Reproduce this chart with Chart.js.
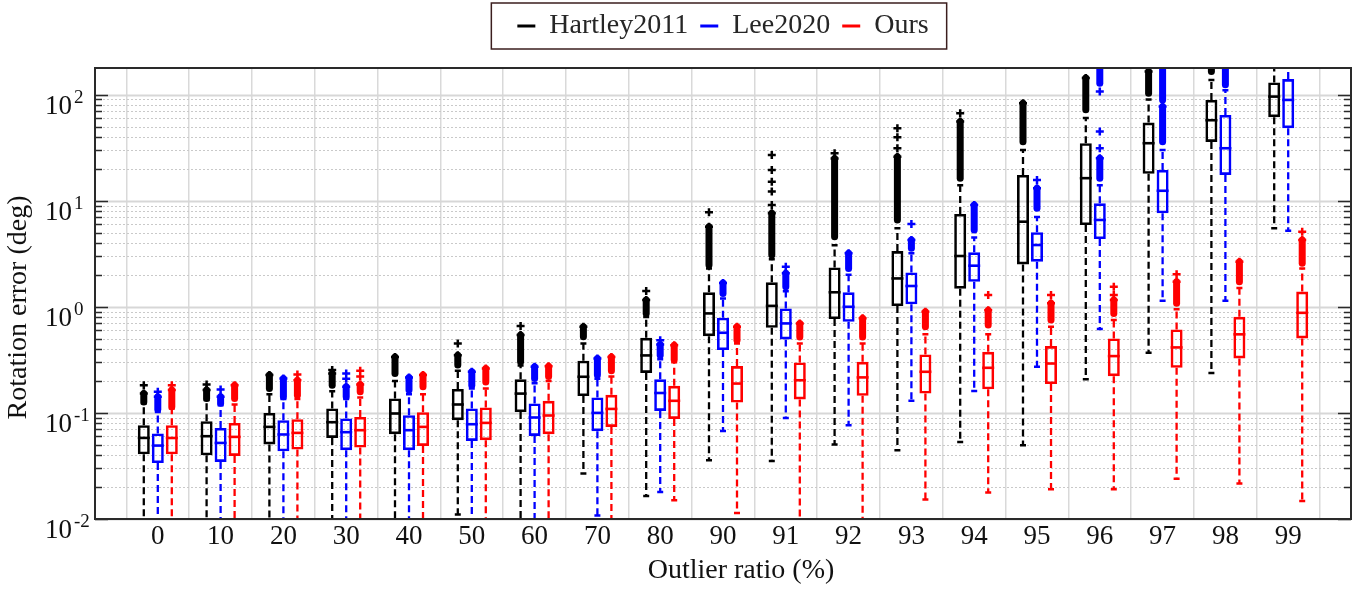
<!DOCTYPE html>
<html>
<head>
<meta charset="utf-8">
<title>Rotation error vs outlier ratio</title>
<script src="https://cdn.jsdelivr.net/npm/chart.js@4.4.1/dist/chart.umd.min.js"></script>
<style>
  html, body { margin: 0; padding: 0; background: #fff; }
  #wrap { width: 1359px; height: 589px; }
</style>
</head>
<body>
<div id="wrap"><canvas id="boxChart"></canvas></div>
<script>
// box plot of rotation error per outlier ratio, three methods, log y axis

const SERIF = '"Liberation Serif", "Times New Roman", Times, serif';

const ratios = ['0','10','20','30','40','50','60','70','80','90','91','92','93','94','95','96','97','98','99'];
const seriesNames = ['Hartley2011', 'Lee2020', 'Ours'];
const seriesColors = ['#000000', '#0000ff', '#ff0000'];

const yRange = [0.01, 178];
const yTickExponents = [-2, -1, 0, 1, 2];

// --- Hartley2011 ---
const hartleyLow    = [0.001,0.001,0.001,0.001,0.001,0.011,0.001,0.0268,0.0165,0.0358,0.0352,0.0504,0.0445,0.0533,0.0496,0.207,0.368,0.238,5.49];
const hartleyQ1     = [0.0407,0.0399,0.0504,0.0581,0.063,0.0853,0.102,0.144,0.238,0.529,0.634,0.766,1.016,1.48,2.51,5.9,17.9,35.8,61.2];
const hartleyMedian = [0.0581,0.0603,0.0738,0.0817,0.0987,0.12,0.152,0.219,0.348,0.866,1.02,1.37,1.85,3.01,6.34,16.3,34.8,57.3,95.7];
const hartleyQ3     = [0.0766,0.0836,0.1,0.11,0.137,0.168,0.207,0.31,0.51,1.368,1.7,2.35,3.35,7.49,17.5,34.8,54.5,89,130];
const hartleyHigh   = [0.123,0.132,0.15,0.16,0.2,0.25,0.28,0.45,0.8,2.3,2.8,3.8,5.5,14,30,60,90,137,300];
const hartleySpans  = [[[0.127,0.152]],[[0.137,0.164]],[[0.17,0.227]],[[0.182,0.235]],[[0.235,0.337]],[[0.282,0.35]],[[0.303,0.541]],[[0.521,0.648]],[[0.866,1.157]],[[2.47,5.69]],[[3.07,7.6]],[[4.57,25]],[[6.58,26]],[[16.3,55.6]],[[36,83]],[[71.8,143]],[[103,165]],[[165,200]],[]];
const hartleyPoints = [[0.182],[0.185],[],[0.253],[],[0.452],[0.658],[],[1.41],[7.78],[9.1,12.2,15.1,19.5,27],[28],[31.2,39.6,48.2],[66.8],[],[],[],[],[]];

// --- Lee2020 ---
const leeLow    = [0.001,0.001,0.001,0.001,0.001,0.001,0.001,0.0108,0.018,0.0676,0.0897,0.0766,0.13,0.161,0.272,0.616,1.14,1.14,5.21];
const leeQ1     = [0.0337,0.0345,0.0435,0.0445,0.0445,0.0544,0.0607,0.0672,0.1044,0.391,0.492,0.722,1.055,1.72,2.66,4.35,7.6,17.5,48.2];
const leeMedian = [0.0492,0.0521,0.0626,0.0658,0.0687,0.0782,0.0905,0.1,0.154,0.569,0.697,1.0,1.57,2.44,3.82,6.58,12.4,31.2,89];
const leeQ3     = [0.064,0.0721,0.0853,0.0885,0.0951,0.11,0.1227,0.14,0.207,0.788,0.966,1.37,2.11,3.26,5.04,9.45,19.5,64.3,140];
const leeHigh   = [0.102,0.118,0.135,0.135,0.15,0.17,0.19,0.21,0.32,1.2,1.4,2.0,3.2,4.5,7,14,30,110,300];
const leeSpans  = [[[0.108,0.142]],[[0.123,0.142]],[[0.142,0.211]],[[0.142,0.176]],[[0.164,0.216]],[[0.182,0.244]],[[0.211,0.272]],[[0.227,0.326]],[[0.35,0.44]],[[1.337,1.68]],[[1.545,2.07]],[[2.3,3.19]],[[3.56,4.26]],[[5.29,9.1]],[[8.48,13.1]],[[16.3,25.1],[128,200]],[[36,77],[89,200]],[[124,200]],[]];
const leePoints = [[0.158],[0.166],[],[0.21,0.235],[],[],[],[],[0.485],[],[2.38],[],[6.03],[],[15.7],[31.2,44.8,107],[],[],[]];

// --- Ours ---
const oursLow    = [0.001,0.001,0.001,0.001,0.001,0.001,0.001,0.001,0.015,0.0114,0.001,0.001,0.0153,0.0178,0.0191,0.0191,0.024,0.0216,0.0148];
const oursQ1     = [0.0407,0.0393,0.0451,0.0472,0.0488,0.0553,0.063,0.0738,0.0878,0.125,0.134,0.145,0.152,0.167,0.187,0.222,0.266,0.326,0.503];
const oursMedian = [0.058,0.0594,0.0648,0.0687,0.0738,0.0805,0.0945,0.109,0.13,0.189,0.203,0.216,0.244,0.266,0.292,0.343,0.414,0.55,0.877];
const oursQ3     = [0.0766,0.0805,0.0873,0.0917,0.1015,0.1125,0.13,0.148,0.18,0.276,0.299,0.303,0.356,0.376,0.426,0.503,0.612,0.805,1.39];
const oursHigh   = [0.11,0.12,0.135,0.14,0.15,0.17,0.2,0.22,0.3,0.45,0.45,0.45,0.55,0.55,0.65,0.75,0.95,1.5,2.3];
const oursSpans  = [[[0.114,0.164]],[[0.137,0.182]],[[0.147,0.203]],[[0.158,0.185]],[[0.176,0.227]],[[0.196,0.262]],[[0.22,0.275]],[[0.25,0.337]],[[0.318,0.435]],[[0.485,0.648]],[[0.52,0.697]],[[0.52,0.778]],[[0.648,0.897]],[[0.672,0.93]],[[0.75,1.077]],[[0.866,1.157]],[[1.077,1.72]],[[1.72,2.66]],[[2.57,4.26]]];
const oursPoints = [[0.182],[],[0.23],[0.22,0.25],[],[],[],[],[],[],[],[],[],[1.29],[1.29],[1.29,1.545],[2.03],[],[5.1]];

const boxStats = [
  { low: hartleyLow, q1: hartleyQ1, median: hartleyMedian, q3: hartleyQ3, high: hartleyHigh, spans: hartleySpans, points: hartleyPoints },
  { low: leeLow,     q1: leeQ1,     median: leeMedian,     q3: leeQ3,     high: leeHigh,     spans: leeSpans,     points: leePoints },
  { low: oursLow,    q1: oursQ1,    median: oursMedian,    q3: oursQ3,    high: oursHigh,    spans: oursSpans,    points: oursPoints }
];

// one empty slot on each side so the ratios sit one step in from the frame
const axisLabels = [''].concat(ratios, ['']);

function boxRanges(s) {
  return [null].concat(s.q1.map((v, i) => [v, s.q3[i]]), [null]);
}

function plus(ctx, x, y, r) {
  ctx.moveTo(x - r, y); ctx.lineTo(x + r, y);
  ctx.moveTo(x, y - r); ctx.lineTo(x, y + r);
}

// whiskers, medians and outliers on top of the floating bars
const boxExtras = {
  id: 'boxExtras',
  afterDatasetsDraw(chart) {
    const {ctx, chartArea: ca} = chart;
    const ys = chart.scales.y;
    ctx.save();
    ctx.beginPath();
    ctx.rect(ca.left, ca.top, ca.right - ca.left, ca.bottom - ca.top);
    ctx.clip();
    boxStats.forEach((s, d) => {
      const meta = chart.getDatasetMeta(d);
      ctx.strokeStyle = seriesColors[d];
      ratios.forEach((_, i) => {
        const el = meta.data[i + 1];
        if (!el) return;
        const {x, width} = el.getProps(['x', 'width'], true);
        const pLow = ys.getPixelForValue(s.low[i]);
        const pQ1 = ys.getPixelForValue(s.q1[i]);
        const pMed = ys.getPixelForValue(s.median[i]);
        const pQ3 = ys.getPixelForValue(s.q3[i]);
        const pHigh = ys.getPixelForValue(s.high[i]);

        // dashed whiskers
        ctx.lineWidth = 2.3;
        ctx.lineCap = 'butt';
        ctx.setLineDash([7, 4]);
        ctx.beginPath();
        ctx.moveTo(x, pQ1); ctx.lineTo(x, pLow);
        ctx.moveTo(x, pQ3); ctx.lineTo(x, pHigh);
        ctx.stroke();
        ctx.setLineDash([]);

        // caps
        ctx.lineWidth = 2.5;
        ctx.beginPath();
        ctx.moveTo(x - 3, pLow); ctx.lineTo(x + 3, pLow);
        ctx.moveTo(x - 3, pHigh); ctx.lineTo(x + 3, pHigh);
        ctx.stroke();

        // median
        ctx.lineWidth = 2.6;
        ctx.beginPath();
        ctx.moveTo(x - width / 2, pMed); ctx.lineTo(x + width / 2, pMed);
        ctx.stroke();

        // dense outlier runs
        s.spans[i].forEach(([a, b]) => {
          const pa = ys.getPixelForValue(a), pb = ys.getPixelForValue(b);
          ctx.lineWidth = 7;
          ctx.lineCap = 'round';
          ctx.beginPath();
          ctx.moveTo(x, pa); ctx.lineTo(x, pb);
          ctx.stroke();
          ctx.lineCap = 'butt';
          ctx.lineWidth = 2.5;
          ctx.beginPath();
          plus(ctx, x, pb, 4);
          ctx.stroke();
        });

        // single outliers
        ctx.lineWidth = 2.5;
        ctx.beginPath();
        s.points[i].forEach(v => plus(ctx, x, ys.getPixelForValue(v), 4));
        ctx.stroke();
      });
    });
    ctx.restore();
  }
};

// log grid: solid decades, dotted minors
const logGrid = {
  id: 'logGrid',
  beforeDatasetsDraw(chart) {
    const {ctx, chartArea: ca} = chart;
    const ys = chart.scales.y;
    ctx.save();
    for (let k = Math.floor(Math.log10(ys.min)); k <= Math.ceil(Math.log10(ys.max)); k++) {
      for (let m = 1; m <= 9; m++) {
        const v = m * Math.pow(10, k);
        if (v < ys.min * 0.999 || v > ys.max) continue;
        const py = Math.round(ys.getPixelForValue(v)) + 0.5;
        ctx.beginPath();
        if (m === 1) {
          ctx.setLineDash([]);
          ctx.strokeStyle = '#d7d7d7';
          ctx.lineWidth = 2;
        } else {
          ctx.setLineDash([2, 2]);
          ctx.strokeStyle = '#c9c9c9';
          ctx.lineWidth = 1;
        }
        ctx.moveTo(ca.left, py); ctx.lineTo(ca.right, py);
        ctx.stroke();
      }
    }
    ctx.restore();
  }
};

// frame, inward y ticks, 10^n labels, axis titles, legend border
const frameAndLabels = {
  id: 'frameAndLabels',
  afterDraw(chart) {
    const {ctx, chartArea: ca} = chart;
    const ys = chart.scales.y;
    ctx.save();

    ctx.strokeStyle = '#2a2a2a';
    ctx.lineWidth = 1.5;
    ctx.beginPath();
    for (let k = Math.floor(Math.log10(ys.min)); k <= Math.ceil(Math.log10(ys.max)); k++) {
      for (let m = 1; m <= 9; m++) {
        const v = m * Math.pow(10, k);
        if (v < ys.min * 0.999 || v > ys.max) continue;
        const py = Math.round(ys.getPixelForValue(v)) + 0.5;
        const len = m === 1 ? 13 : 7;
        ctx.moveTo(ca.left, py); ctx.lineTo(ca.left + len, py);
        ctx.moveTo(ca.right, py); ctx.lineTo(ca.right - len, py);
      }
    }
    ctx.stroke();

    ctx.lineWidth = 2;
    ctx.strokeRect(ca.left, ca.top, ca.right - ca.left, ca.bottom - ca.top);

    // y tick labels with superscript exponents
    ctx.fillStyle = '#111';
    ctx.textAlign = 'left';
    ctx.textBaseline = 'alphabetic';
    yTickExponents.forEach(e => {
      const py = ys.getPixelForValue(Math.pow(10, e));
      ctx.font = '27px ' + SERIF;
      ctx.fillText('10', 45, py + 19);
      ctx.font = '19px ' + SERIF;
      ctx.fillText(String(e), 74, py + 8);
    });

    // axis titles
    ctx.font = '28px ' + SERIF;
    ctx.textAlign = 'center';
    ctx.textBaseline = 'middle';
    ctx.fillText('Outlier ratio (%)', (ca.left + ca.right) / 2 + 18, 571);
    ctx.save();
    ctx.translate(19, (ca.top + ca.bottom) / 2 + 14);
    ctx.rotate(-Math.PI / 2);
    ctx.fillText('Rotation error (deg)', 0, 0);
    ctx.restore();

    // legend frame
    const hb = chart.legend.legendHitBoxes;
    if (hb && hb.length) {
      const first = hb[0], last = hb[hb.length - 1];
      const left = first.left - 26;
      const right = last.left + last.width + 18;
      ctx.strokeStyle = '#3b1e1e';
      ctx.lineWidth = 1.5;
      ctx.strokeRect(left, first.top - 9, right - left, first.height + 18);
    }
    ctx.restore();
  }
};

// extra room between legend and plot frame
const legendSpacer = {
  id: 'legendSpacer',
  beforeLayout(chart) {
    const lg = chart.legend;
    if (!lg || lg._spaced) return;
    const fit = lg.fit;
    lg.fit = function () { fit.call(this); this.height += 18; };
    lg._spaced = true;
  }
};

const ctx = document.getElementById('boxChart').getContext('2d');
new Chart(ctx, {
  type: 'bar',
  data: {
    labels: axisLabels,
    datasets: boxStats.map((s, d) => ({
      label: seriesNames[d],
      data: boxRanges(s),
      borderColor: seriesColors[d],
      backgroundColor: 'rgba(0,0,0,0)',
      borderWidth: 2.6,
      borderSkipped: false,
      categoryPercentage: 0.669,
      barPercentage: 0.857
    }))
  },
  options: {
    responsive: true,
    maintainAspectRatio: false,
    animation: false,
    layout: { padding: { top: 0, left: 0, right: 8, bottom: 0 } },
    scales: {
      x: {
        type: 'category',
        offset: false,
        grid: { color: '#d9d9d9', lineWidth: 1.5, drawTicks: false },
        border: { display: false },
        ticks: { font: { family: SERIF, size: 27 }, color: '#111', padding: 2, autoSkip: false, maxRotation: 0 },
        afterFit(scale) { scale.height = 70; }
      },
      y: {
        type: 'logarithmic',
        min: yRange[0],
        max: yRange[1],
        grid: { display: false },
        border: { display: false },
        ticks: { display: false },
        afterFit(scale) { scale.width = 95; }
      }
    },
    plugins: {
      tooltip: { enabled: false },
      legend: {
        position: 'top',
        fullSize: false,
        labels: {
          font: { family: SERIF, size: 28 },
          color: '#262626',
          boxWidth: 18,
          boxHeight: 3,
          padding: 12,
          generateLabels(chart) {
            return chart.data.datasets.map((ds, i) => ({
              text: ds.label,
              fillStyle: ds.borderColor,
              strokeStyle: ds.borderColor,
              lineWidth: 0,
              fontColor: '#262626',
              hidden: false,
              datasetIndex: i
            }));
          }
        }
      }
    }
  },
  plugins: [legendSpacer, logGrid, boxExtras, frameAndLabels]
});
</script>
</body>
</html>
